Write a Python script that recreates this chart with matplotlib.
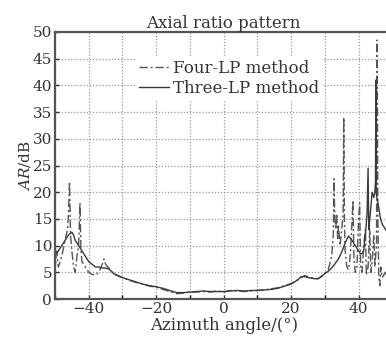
import matplotlib
matplotlib.use("Agg")
import matplotlib.pyplot as plt
import numpy as np

title = "Axial ratio pattern"
xlabel = "Azimuth angle/(°)"
series_names = ["Four-LP method", "Three-LP method"]
x_ticks = [-40, -20, 0, 20, 40]
y_ticks = [0, 5, 10, 15, 20, 25, 30, 35, 40, 45, 50]

three_x = [-50, -49, -48, -47, -46, -45, -44.5, -44, -43, -42, -41, -40, -39, -38, -37, -36, -35, -34,
           -33, -32, -30, -28, -26, -24, -22, -20, -18, -16, -15, -14, -12, -10, -8, -6, -4, -2, 0, 2, 4,
           6, 8, 10, 12, 14, 16, 18, 20, 21, 22, 23, 24, 25, 26, 27, 28, 29, 30, 31, 32, 33, 34, 35, 36,
           37, 38, 39, 40, 40.5, 41, 41.5, 42, 42.5, 42.8, 43, 43.3, 43.6, 44, 44.5, 44.8, 45, 45.1, 45.2,
           45.4, 46, 46.5, 47, 48, 49, 50]
three_y = [8, 9, 10, 11, 12, 12.5, 12, 11, 10, 9, 8, 7, 6.5, 6, 6, 5.8, 5.8, 5.6,
           5, 4.5, 4, 3.6, 3.2, 2.8, 2.5, 2.3, 2.0, 1.6, 1.4, 1.2, 1.2, 1.3, 1.4, 1.5, 1.4, 1.4, 1.4, 1.5, 1.6,
           1.5, 1.6, 1.6, 1.7, 1.8, 2.0, 2.4, 2.8, 3.2, 3.6, 4.2, 4.2, 4.0, 3.9, 3.8, 3.8, 4.2, 4.8, 5.2, 5.8, 6.6, 7.5, 8.8, 10.5,
           11.8, 11, 10, 9, 8.5, 8.5, 9, 12, 16, 24.5, 13, 15, 17, 20, 19, 20, 22, 41, 20,
           19, 17, 15, 14, 13, 12, 12]

four_x = [-50, -49.5, -49, -48, -47, -46.3, -46, -45.7, -45.4, -45, -44.5, -44, -43.5, -43, -42.6, -42.3,
          -42, -41, -40, -39, -38, -37, -36, -35.5, -35, -34, -33, -32, -30, -28, -26, -24, -22, -20, -18,
          -16, -14, -12, -10, -8, -6, -4, -2, 0, 2, 4, 6, 8, 10, 12, 14, 16, 18, 20, 22, 24, 26, 28, 30,
          31, 32, 32.5, 32.7, 32.9, 33.2, 33.5, 33.8, 34, 34.5, 35, 35.4, 35.6, 35.8, 36, 36.5, 37, 37.5,
          38, 38.3, 38.6, 39, 39.5, 40, 40.3, 40.6, 41, 41.5, 42, 42.3, 42.8, 43.3, 43.6, 44, 44.5, 44.8,
          45.3, 45.5, 45.7, 46, 46.3, 46.6, 47, 48, 49, 50]
four_y = [5.5, 9, 6, 8, 11, 13, 16, 22, 12, 9, 6, 5, 8, 10, 18, 9,
          7, 6, 5, 4.6, 4.5, 5, 6.5, 7.5, 6.5, 5.8, 5.0, 4.6, 4.0, 3.5, 3.1, 2.8, 2.4, 2.2, 1.8,
          1.4, 1.0, 1.1, 1.3, 1.3, 1.4, 1.3, 1.5, 1.3, 1.6, 1.5, 1.4, 1.5, 1.6, 1.7, 1.9, 2.1, 2.5, 2.9, 3.6, 4.4, 4.0, 3.8, 4.8,
          5.5, 8, 12, 22.5, 16, 13, 16, 11, 14, 10, 13, 16, 34, 14, 9, 6, 5.5, 8,
          14, 18.5, 8, 5, 6, 15, 18, 6, 5, 10, 13, 4.5, 6, 13, 5, 7, 12, 6,
          10, 48.5, 15, 4, 2.5, 6, 4, 5, 3, 4]

plt.rcParams['font.family'] = ['DejaVu Serif']
plt.rcParams['mathtext.fontset'] = 'dejavuserif'

fig = plt.figure(figsize=(3.86, 3.47), dpi=100)
ax = fig.add_axes([0.1425, 0.1383, 0.874, 0.7695])

ax.plot(four_x, four_y, linestyle=(0, (6, 2, 1.5, 2)), color='#555555', linewidth=1.0, label=series_names[0])
ax.plot(three_x, three_y, linestyle='-', color='#3a3a3a', linewidth=1.0, label=series_names[1])

ax.set_xlim(-50, 50)
ax.set_ylim(0, 50)
ax.set_xticks(x_ticks)
ax.set_xticks(np.arange(-50, 51, 10), minor=True)
ax.set_yticks(y_ticks)
ax.grid(True, which='both', linestyle=(0, (1, 1.5)), color='#999999', linewidth=0.9)
ax.tick_params(direction='in', labelsize=11, colors='#333333', length=3, width=1, pad=2)
ax.tick_params(which='minor', direction='in', length=3, width=1)
for s in ax.spines.values():
    s.set_linewidth(1.6)
    s.set_color('#555555')

ax.set_title(title, fontsize=12, color='#333333', pad=2)
ax.set_xlabel(xlabel, fontsize=12, color='#333333', labelpad=1)
ax.set_ylabel(r'$\mathit{AR}$/dB', fontsize=11, color='#333333', labelpad=0)

leg = ax.legend(loc='upper left', bbox_to_anchor=(0.215, 0.94), fontsize=12, frameon=True,
                fancybox=False, edgecolor='none', facecolor='white', framealpha=1,
                handlelength=1.8, handletextpad=0.2, borderpad=0.2, labelspacing=0.2)
for t in leg.get_texts():
    t.set_color('#333333')

fig.savefig('out.png', dpi=100)
